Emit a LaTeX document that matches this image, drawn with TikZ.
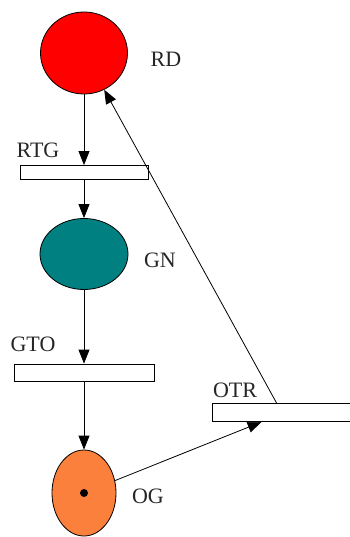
\documentclass[tikz,border=0pt]{standalone}
\usepackage{fontspec}
\setmainfont{Liberation Serif}
\usetikzlibrary{shapes.geometric, arrows.meta}

\begin{document}
\begin{tikzpicture}[
	x=1pt, y=-1pt,
	place/.style={
		ellipse,
		draw=black,
		line width=0.8pt,
		inner sep=0pt
	},
	transition/.style={
		rectangle,
		draw=black,
		line width=0.8pt,
		fill=white,
		inner sep=0pt
	},
	token/.style={
		circle,
		fill=black,
		inner sep=0pt,
		minimum size=8pt
	},
	netname/.style={
		font=\fontsize{22}{22}\selectfont,
		text=black!85
	},
	arc/.style={
		line width=0.8pt,
		-{Triangle[length=14pt, width=11pt]}
	}
	]
	\useasboundingbox (0,0) rectangle (349,537);

	% places
	\node[place, fill=red, minimum width=87pt, minimum height=82pt] (RD) at (84,53) {};
	\node[place, fill={rgb,255:red,0;green,128;blue,128}, minimum width=88pt, minimum height=71pt] (GN) at (84,254) {};
	\node[place, fill={rgb,255:red,250;green,128;blue,60}, minimum width=64pt, minimum height=86pt] (OG) at (84,493) {};
	\node[token] (OGtoken) at (OG.center) {};

	% transitions
	\node[transition, minimum width=128pt, minimum height=14pt] (RTG) at (84,172.5) {};
	\node[transition, minimum width=140pt, minimum height=17pt] (GTO) at (84,372.5) {};
	\node[transition, minimum width=140pt, minimum height=18pt] (OTR) at (282,412.5) {};

	% names
	\node[netname] (RDname) at (166,59) {RD};
	\node[netname] (GNname) at (160,260) {GN};
	\node[netname] (OGname) at (148,496) {OG};
	\node[netname] (RTGname) at (38,150) {RTG};
	\node[netname] (GTOname) at (33,344) {GTO};
	\node[netname] (OTRname) at (235,390) {OTR};

	\coordinate (OTRin) at ([xshift=50pt]OTR.south west);
	\coordinate (OTRout) at ([xshift=65pt]OTR.north west);

	% arcs
	\draw[arc] (RD.south) -- (RTG.north);
	\draw[arc] (RTG.south) -- (GN.north);
	\draw[arc] (GN.south) -- (GTO.north);
	\draw[arc] (GTO.south) -- (OG.north);
	\draw[arc] (OG) -- (OTRin);
	\draw[arc] (OTRout) -- (RD);
\end{tikzpicture}
\end{document}
